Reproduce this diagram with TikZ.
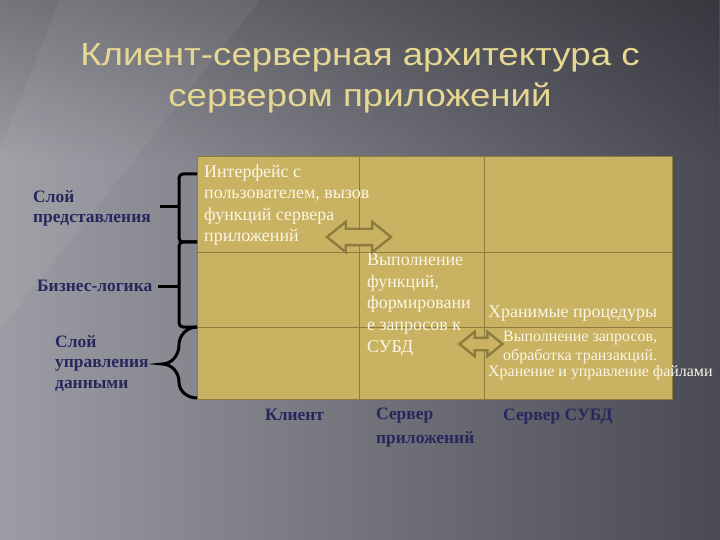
\documentclass[tikz,border=0pt]{standalone}
\usepackage{fontspec}
\setmainfont{Liberation Serif}
\newfontfamily\titlefont[FakeStretch=1.15]{Liberation Sans}
\usetikzlibrary{shapes.arrows,fadings}

\definecolor{bgleft}{HTML}{9C9CA4}
\definecolor{bgright}{HTML}{4A4A54}
\definecolor{cellfill}{HTML}{C9B262}
\definecolor{gridcol}{HTML}{8C7C3E}
\definecolor{titlecol}{HTML}{E6D892}
\definecolor{navy}{HTML}{27275E}
\definecolor{celltext}{HTML}{FBF6E6}

\tikzset{
  celltxt/.style={text=celltext, font=\fontsize{18}{21.6}\selectfont, align=left, inner sep=0pt, anchor=base west},
  smalltxt/.style={text=celltext, font=\fontsize{16}{19}\selectfont, align=left, inner sep=0pt, anchor=base west},
  sidelbl/.style={text=navy, font=\bfseries\fontsize{17.5}{20.5}\selectfont, align=left, inner sep=0pt, anchor=base west},
  collbl/.style={text=navy, font=\bfseries\fontsize{17.5}{24}\selectfont, align=left, inner sep=0pt, anchor=base west},
  bracket/.style={line width=3bp, black, rounded corners=4bp},
  dblarrow/.style={double arrow, draw=gridcol, fill=cellfill, line width=2.4bp,
    inner xsep=0pt, double arrow tip angle=78},
  grid line/.style={draw=gridcol, line width=0.8bp}
}

\begin{document}
\begin{tikzpicture}[x=1bp, y=-1bp]
  % background
  \shade[left color=bgleft, right color=bgright] (0,0) rectangle (720,540);
  \fill[black, opacity=0.25, path fading=south] (0,0) rectangle (720,160);
  \fill[white, opacity=0.05] (60,0) -- (260,0) -- (0,330) -- (0,150) -- cycle;
  \useasboundingbox (0,0) rectangle (720,540);

  % title (anchored at the baseline of its last line)
  \node[font=\titlefont\fontsize{32}{42}\selectfont, text=titlecol, align=center, anchor=base] (title) at (360,107)
    {Клиент-серверная архитектура с\\сервером приложений};

  % table
  \fill[cellfill] (197,156) rectangle (672,399);
  \foreach \x in {359, 484}{
    \draw[grid line] (\x,156) -- (\x,399);
  }
  \foreach \y in {252, 327}{
    \draw[grid line] (197,\y) -- (672,\y);
  }
  \draw[grid line] (197,156) rectangle (672,399);

  % cell texts
  \node[celltxt] (ui) at (204,242) {Интерфейс с\\пользователем, вызов\\функций сервера\\приложений};
  \node[celltxt] (logic) at (367,352) {Выполнение\\функций,\\формировани\\е запросов к\\СУБД};
  \node[celltxt] (proc) at (488,317) {Хранимые процедуры};
  \node[smalltxt] (query) at (503,360) {Выполнение запросов,\\обработка транзакций.};
  \node[smalltxt] (files) at (488,376) {Хранение и управление файлами};

  % block arrows
  \node[dblarrow, minimum height=64bp, inner ysep=7bp, double arrow head extend=7bp] (a1) at (359,237) {};
  \node[dblarrow, minimum height=43bp, inner ysep=5bp, double arrow head extend=6bp] (a2) at (481,344) {};

  % layer labels
  \node[sidelbl] (pres) at (33,223) {Слой\\представления};
  \node[sidelbl] (biz) at (37,291) {Бизнес-логика};
  \node[sidelbl] (data) at (55,388) {Слой\\управления\\данными};

  % braces
  \draw[bracket] (197,174) -- (179,174) -- (179,242) -- (197,242);
  \draw[bracket] (179,207) -- (160,207);
  \draw[bracket] (197,242) -- (179,242) -- (179,327) -- (197,327);
  \draw[bracket] (179,286) -- (158,286);
  \draw[line width=3bp] (197,327) to[out=180,in=90] (179,345) to[out=-90,in=0] (162,364)
    to[out=0,in=90] (179,382) to[out=-90,in=180] (197,398);

  % column labels
  \node[collbl] (client) at (265,420) {Клиент};
  \node[collbl] (appsrv) at (376,443) {Сервер\\приложений};
  \node[collbl] (dbsrv) at (503,420) {Сервер СУБД};
\end{tikzpicture}
\end{document}
